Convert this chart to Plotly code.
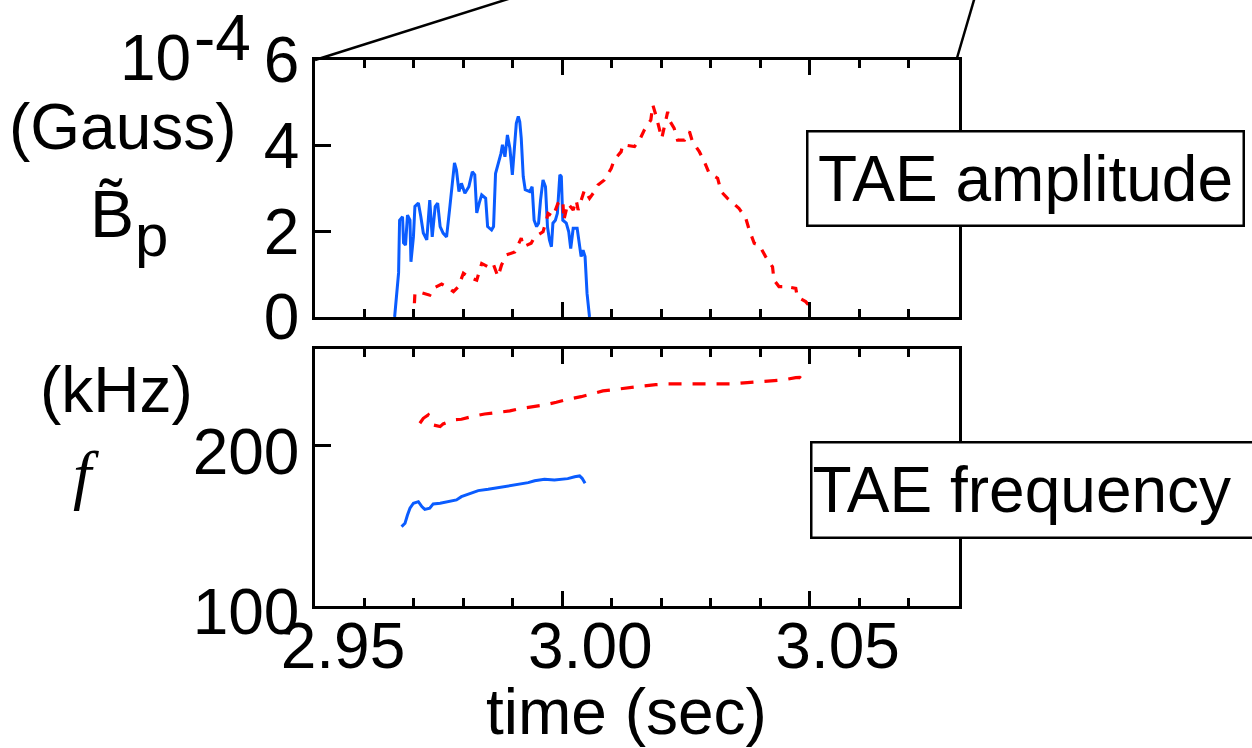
import plotly.graph_objects as go

# ---------------- data ----------------
# TAE amplitude (x 1e-4 Gauss), blue solid mode
t_amp_blue = [2.9661, 2.9669, 2.9671, 2.9677, 2.9679, 2.9683, 2.9687, 2.9692, 2.9694, 2.9699,
              2.9702, 2.9709, 2.9714, 2.9719, 2.9726, 2.9732, 2.9737, 2.9743, 2.9748, 2.9753,
              2.9759, 2.9766, 2.9772, 2.9776, 2.9782, 2.9786, 2.9791, 2.9796, 2.9803, 2.9811,
              2.9818, 2.9823, 2.9827, 2.9832, 2.9837, 2.9845, 2.9849, 2.9857, 2.9861, 2.9865,
              2.9870, 2.9876, 2.9879, 2.9884, 2.9889, 2.9894, 2.9899, 2.9904, 2.9907, 2.9911,
              2.9914, 2.9917, 2.9921, 2.9925, 2.9934, 2.9939, 2.9943, 2.9948, 2.9952, 2.9956,
              2.9961, 2.9966, 2.9970, 2.9974, 2.9978, 2.9981, 2.9986, 2.9990, 2.9995, 2.9998,
              3.0001, 3.0008, 3.0013, 3.0017, 3.0022, 3.0030, 3.0035, 3.0038, 3.0042, 3.0046,
              3.0050, 3.0053, 3.0055]
amp_blue = [0.00, 1.03, 2.26, 2.34, 1.73, 1.68, 2.38, 2.26, 1.29, 1.87,
            2.58, 2.66, 2.34, 1.96, 1.80, 2.73, 1.87, 2.58, 2.66, 2.11,
            1.96, 1.87, 2.50, 2.97, 3.60, 3.43, 2.93, 3.12, 2.89, 3.04,
            3.39, 3.32, 2.43, 2.66, 2.85, 2.77, 2.11, 2.03, 2.11, 3.35,
            3.55, 3.82, 4.02, 3.74, 4.25, 3.94, 3.32, 3.98, 4.52, 4.68,
            4.56, 4.17, 3.28, 2.97, 2.93, 3.04, 2.26, 2.11, 2.19, 2.73,
            3.20, 3.04, 2.11, 1.80, 1.64, 2.19, 2.26, 2.42, 3.32, 3.28,
            2.26, 2.19, 1.99, 1.60, 2.07, 2.07, 1.64, 1.41, 1.56, 1.41,
            0.55, 0.09, 0.00]

# TAE amplitude, red dashed mode
t_amp_red = [2.9701, 2.9702, 2.9709, 2.9732, 2.9739, 2.9756, 2.9766, 2.9780, 2.9790, 2.9800,
             2.9810, 2.9827, 2.9837, 2.9850, 2.9860, 2.9870, 2.9877, 2.9887, 2.9904, 2.9917,
             2.9921, 2.9937, 2.9944, 2.9961, 2.9968, 2.9971, 2.9981, 2.9991, 3.0001, 3.0003,
             3.0011, 3.0022, 3.0028, 3.0032, 3.0045, 3.0055, 3.0065, 3.0072, 3.0085, 3.0099,
             3.0105, 3.0119, 3.0122, 3.0146, 3.0156, 3.0166, 3.0179, 3.0183, 3.0189, 3.0196,
             3.0201, 3.0213, 3.0216, 3.0226, 3.0233, 3.0247, 3.0257, 3.0263, 3.0277, 3.0287,
             3.0297, 3.0314, 3.0321, 3.0334, 3.0347, 3.0357, 3.0371, 3.0378, 3.0388, 3.0398,
             3.0411, 3.0425, 3.0428, 3.0438, 3.0452, 3.0472, 3.0475, 3.0492, 3.0501]
amp_red = [0.32, 0.55, 0.59, 0.51, 0.67, 0.77, 0.71, 0.59, 0.71, 1.02,
           0.94, 0.86, 1.25, 1.17, 1.25, 0.94, 1.21, 1.45, 1.52, 1.84,
           1.64, 1.72, 1.87, 1.99, 2.26, 2.42, 2.34, 2.65, 2.73, 2.26,
           2.65, 2.50, 2.73, 2.50, 2.97, 2.77, 2.93, 3.08, 3.20, 3.47,
           3.67, 3.86, 4.02, 3.98, 4.13, 4.37, 4.60, 4.95, 4.72, 4.41,
           4.17, 4.79, 4.60, 4.41, 4.13, 4.13, 4.33, 4.10, 3.86, 3.63,
           3.35, 3.24, 2.93, 2.77, 2.65, 2.54, 2.30, 2.03, 1.72, 1.68,
           1.41, 1.17, 0.86, 0.71, 0.71, 0.67, 0.47, 0.36, 0.24]

# TAE frequency (kHz)
t_freq_blue = [2.9675, 2.9682, 2.9687, 2.9692, 2.9699, 2.9709, 2.9716, 2.9722, 2.9732, 2.9739,
               2.9753, 2.9770, 2.9786, 2.9796, 2.9813, 2.9830, 2.9850, 2.9877, 2.9904, 2.9931,
               2.9944, 2.9964, 2.9984, 3.0011, 3.0025, 3.0035, 3.0040, 3.0046]
freq_blue = [149.6, 151.7, 156.9, 161.1, 164.2, 165.2, 162.1, 160.4, 161.1, 163.8,
             164.2, 165.2, 166.3, 168.3, 170.0, 172.1, 172.9, 174.2, 175.6, 177.1,
             178.3, 179.2, 178.8, 179.6, 180.8, 181.3, 179.8, 176.7]

t_freq_red = [2.9712, 2.9719, 2.9729, 2.9739, 2.9753, 2.9759, 2.9780, 2.9796, 2.9823, 2.9843,
              2.9870, 2.9894, 2.9917, 2.9941, 2.9964, 2.9988, 3.0011, 3.0038, 3.0062, 3.0082,
              3.0109, 3.0136, 3.0163, 3.0189, 3.0213, 3.0240, 3.0270, 3.0307, 3.0341, 3.0374,
              3.0395, 3.0421, 3.0448, 3.0472, 3.0480, 3.0488]
freq_red = [214.2, 217.3, 219.4, 213.1, 212.1, 213.8, 216.3, 216.7, 218.8, 220.0,
            221.0, 221.9, 223.5, 224.6, 225.6, 227.3, 229.2, 230.8, 232.9, 234.4,
            235.4, 236.7, 237.5, 238.3, 238.8, 238.8, 238.8, 238.8, 238.8, 239.6,
            240.0, 240.8, 241.3, 242.7, 242.9, 240.8]

x_tickvals = [2.95, 3.00, 3.05]
x_ticktext = ["2.95", "3.00", "3.05"]
amp_tickvals = [0, 2, 4, 6]
freq_tickvals = [100, 200]

# ---------------- figure ----------------
W, H = 1252, 748
L, R, T, B = 315, 959, 60, 606  # plot area in pixels
FONT = "Liberation Sans, Arial, sans-serif"
FS = 64
BLUE = "#0A5CFF"
RED = "#FF0000"


def px(xp):
    return (xp - L) / (R - L)


def py(yp):
    return (B - yp) / (B - T)


fig = go.Figure()
fig.add_trace(go.Scatter(x=t_amp_blue, y=amp_blue, mode="lines",
                         line=dict(color=BLUE, width=3), xaxis="x", yaxis="y"))
fig.add_trace(go.Scatter(x=t_amp_red, y=amp_red, mode="lines",
                         line=dict(color=RED, width=3.2, dash="9px,9px"), xaxis="x", yaxis="y"))
fig.add_trace(go.Scatter(x=t_freq_blue, y=freq_blue, mode="lines",
                         line=dict(color=BLUE, width=3), xaxis="x2", yaxis="y2"))
fig.add_trace(go.Scatter(x=t_freq_red, y=freq_red, mode="lines",
                         line=dict(color=RED, width=3.2, dash="13px,11px"), xaxis="x2", yaxis="y2"))

top_dom = [py(317), 1.0]
bot_dom = [0.0, py(349)]

xcommon = dict(range=[2.95, 3.0802], tickvals=x_tickvals, ticktext=x_ticktext,
               ticks="inside", ticklen=15, tickwidth=2.5, tickcolor="black",
               showline=True, linecolor="black", linewidth=2.5, mirror="ticks",
               showgrid=False, zeroline=False, automargin=False,
               minor=dict(dtick=0.01, tick0=2.95, ticks="inside", ticklen=8,
                          tickwidth=2.5, tickcolor="black", showgrid=False),
               tickfont=dict(family=FONT, size=FS, color="black"))
ycommon = dict(ticks="inside", ticklen=16, tickwidth=2.5, tickcolor="black",
               showline=True, linecolor="black", linewidth=2.5, mirror=True,
               showgrid=False, zeroline=False, automargin=False,
               tickfont=dict(family=FONT, size=FS, color="black"))

fig.update_layout(
    width=W, height=H,
    margin=dict(l=L, r=W - R, t=T, b=H - B, pad=0),
    paper_bgcolor="white", plot_bgcolor="white",
    showlegend=False,
    xaxis=dict(domain=[0, 1], anchor="y", showticklabels=False, **xcommon),
    yaxis=dict(domain=top_dom, anchor="x", range=[0, 6], tickvals=amp_tickvals, **ycommon),
    xaxis2=dict(domain=[0, 1], anchor="y2", showticklabels=True, ticklabelshift=28,
                ticklabelstandoff=-18, **xcommon),
    yaxis2=dict(domain=bot_dom, anchor="x2", range=[100, 260.6], tickvals=freq_tickvals,
                ticklabelshift=6, **ycommon),
)

# zoom lines from the previous panel
fig.add_shape(type="line", xref="paper", yref="paper",
              x0=px(315), y0=py(60), x1=px(315 + 190 * 100 / 60), y1=py(-40),
              line=dict(color="black", width=2.5))
fig.add_shape(type="line", xref="paper", yref="paper",
              x0=px(957), y0=py(58), x1=px(957 + 17 * 100 / 58), y1=py(-42),
              line=dict(color="black", width=2.5))

ann = []
# legend-like boxes
ann.append(dict(text="TAE amplitude", x=px(1025), y=py(178), xref="paper", yref="paper",
                xanchor="center", yanchor="middle", showarrow=False,
                width=434, height=92, borderpad=0, bordercolor="black", borderwidth=2.5,
                bgcolor="white", font=dict(family=FONT, size=FS, color="black")))
ann.append(dict(text="TAE frequency", x=px(1035), y=py(490), xref="paper", yref="paper",
                xanchor="center", yanchor="middle", showarrow=False, align="left",
                width=445, height=93, borderpad=0, bordercolor="black", borderwidth=2.5,
                bgcolor="white", font=dict(family=FONT, size=FS, color="black")))
# left labels
ann.append(dict(text="10", x=px(155), y=py(58), xref="paper", yref="paper",
                xanchor="center", yanchor="middle", showarrow=False,
                font=dict(family=FONT, size=FS, color="black")))
ann.append(dict(text="-4", x=px(222), y=py(38), xref="paper", yref="paper",
                xanchor="center", yanchor="middle", showarrow=False,
                font=dict(family=FONT, size=FS, color="black")))
ann.append(dict(text="(Gauss)", x=px(123), y=py(127), xref="paper", yref="paper",
                xanchor="center", yanchor="middle", showarrow=False,
                font=dict(family=FONT, size=FS, color="black")))
ann.append(dict(text="B\u0303", x=px(112), y=py(214), xref="paper", yref="paper",
                xanchor="center", yanchor="middle", showarrow=False,
                font=dict(family=FONT, size=66, color="black")))
ann.append(dict(text="p", x=px(151), y=py(236), xref="paper", yref="paper",
                xanchor="center", yanchor="middle", showarrow=False,
                font=dict(family=FONT, size=60, color="black")))
ann.append(dict(text="(kHz)", x=px(116), y=py(390), xref="paper", yref="paper",
                xanchor="center", yanchor="middle", showarrow=False,
                font=dict(family=FONT, size=FS, color="black")))
ann.append(dict(text="<i>f</i>", x=px(86), y=py(474), xref="paper", yref="paper",
                xanchor="center", yanchor="middle", showarrow=False,
                font=dict(family="Liberation Serif, serif", size=66, color="black")))
ann.append(dict(text="time (sec)", x=px(626), y=py(712), xref="paper", yref="paper",
                xanchor="center", yanchor="middle", showarrow=False,
                font=dict(family=FONT, size=FS, color="black")))
fig.update_layout(annotations=ann)

fig.write_html("out.html", config={"displayModeBar": False},
               post_script="document.body.style.margin='0px';document.body.style.overflow='hidden';")
